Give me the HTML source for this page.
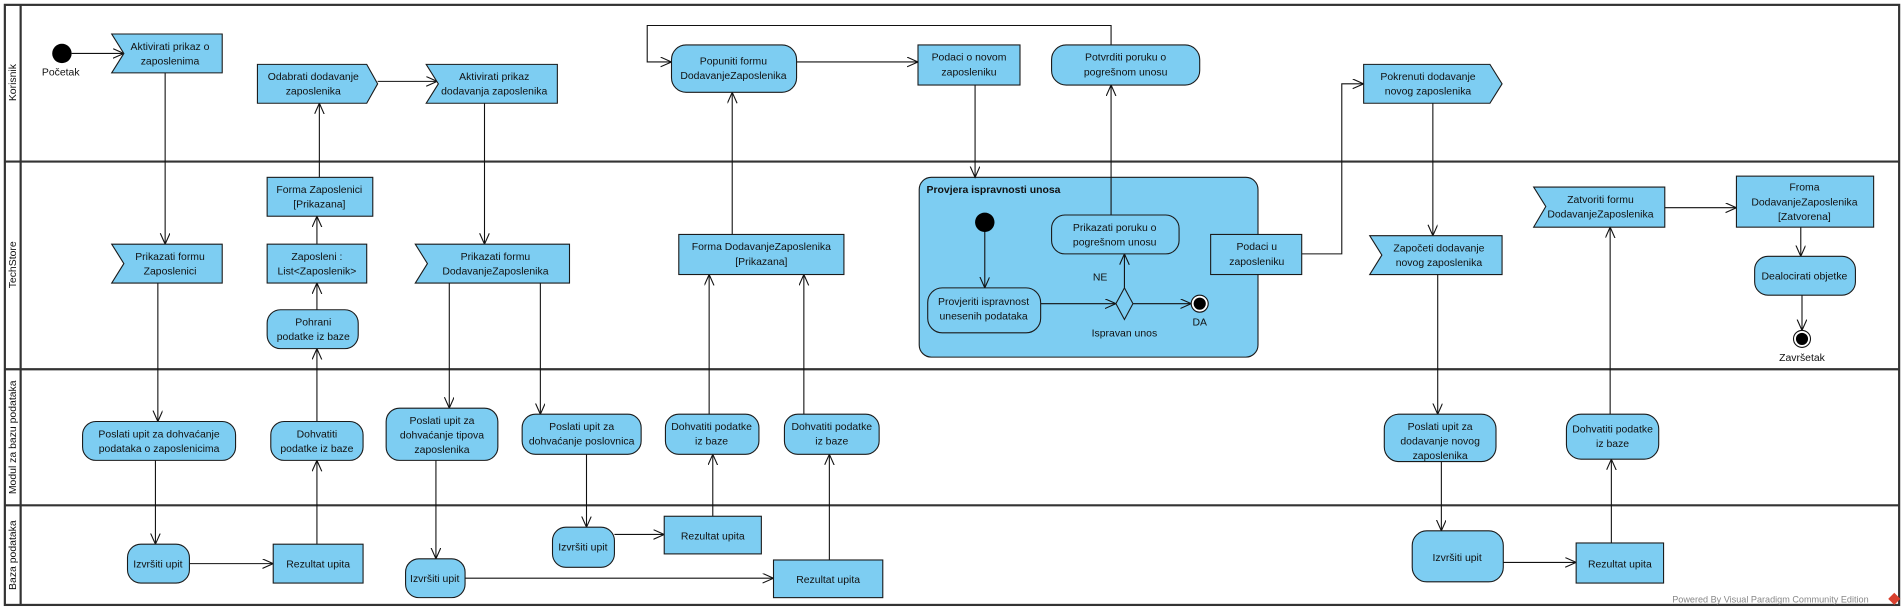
<!DOCTYPE html>
<html><head><meta charset="utf-8"><style>
html,body{margin:0;padding:0;background:#fff;}
svg{display:block;}
text{font-family:"Liberation Sans",sans-serif;font-size:8.6px;fill:#111;}
.n{fill:#7dcdf2;stroke:#1a1a1a;stroke-width:0.9;}
.l{fill:none;stroke:#111;stroke-width:0.9;}
.lane{fill:none;stroke:#333;stroke-width:1.8;}
</style></head><body>
<svg width="1904" height="611" viewBox="0 0 1568 503" preserveAspectRatio="none" xmlns="http://www.w3.org/2000/svg">
<defs><marker id="a" markerUnits="userSpaceOnUse" markerWidth="12" markerHeight="10" refX="9" refY="4" orient="auto"><path d="M0,0 L9,4 L0,8" fill="none" stroke="#111" stroke-width="0.9"/></marker></defs>
<rect x="0" y="0" width="1568" height="503" fill="#fff"/>
<!-- lanes -->
<rect class="lane" x="4" y="4" width="1560" height="494"/>
<line class="lane" x1="17" y1="4" x2="17" y2="498"/>
<line class="lane" x1="4" y1="133" x2="1564" y2="133"/>
<line class="lane" x1="4" y1="304" x2="1564" y2="304"/>
<line class="lane" x1="4" y1="416" x2="1564" y2="416"/>
<text transform="translate(13,68) rotate(-90)" text-anchor="middle">Korisnik</text>
<text transform="translate(13,218) rotate(-90)" text-anchor="middle">TechStore</text>
<text transform="translate(13,360) rotate(-90)" text-anchor="middle">Modul za bazu podataka</text>
<text transform="translate(13,457) rotate(-90)" text-anchor="middle">Baza podataka</text>

<!-- container -->
<rect class="n" x="757" y="146" width="279" height="148" rx="10"/>
<text x="763" y="159" style="font-weight:bold">Provjera ispravnosti unosa</text>

<!-- connectors -->
<g class="l">
<line x1="59" y1="44" x2="102" y2="44" marker-end="url(#a)"/>
<line x1="136" y1="60" x2="136" y2="201" marker-end="url(#a)"/>
<line x1="130" y1="233" x2="130" y2="347" marker-end="url(#a)"/>
<line x1="128" y1="379" x2="128" y2="448" marker-end="url(#a)"/>
<line x1="156" y1="464" x2="225" y2="464" marker-end="url(#a)"/>
<line x1="261" y1="448" x2="261" y2="379" marker-end="url(#a)"/>
<line x1="261" y1="347" x2="261" y2="287" marker-end="url(#a)"/>
<line x1="261" y1="255" x2="261" y2="233" marker-end="url(#a)"/>
<line x1="261" y1="201" x2="261" y2="178" marker-end="url(#a)"/>
<line x1="263" y1="146" x2="263" y2="85" marker-end="url(#a)"/>
<line x1="311" y1="67" x2="360" y2="67" marker-end="url(#a)"/>
<line x1="399" y1="85" x2="399" y2="201" marker-end="url(#a)"/>
<line x1="370" y1="233" x2="370" y2="336" marker-end="url(#a)"/>
<line x1="445" y1="233" x2="445" y2="341" marker-end="url(#a)"/>
<line x1="359" y1="379" x2="359" y2="460" marker-end="url(#a)"/>
<line x1="383" y1="476" x2="637" y2="476" marker-end="url(#a)"/>
<line x1="483" y1="374" x2="483" y2="434" marker-end="url(#a)"/>
<line x1="506" y1="440" x2="547" y2="440" marker-end="url(#a)"/>
<line x1="587" y1="425" x2="587" y2="374" marker-end="url(#a)"/>
<line x1="584" y1="341" x2="584" y2="226" marker-end="url(#a)"/>
<line x1="683" y1="461" x2="683" y2="374" marker-end="url(#a)"/>
<line x1="662" y1="341" x2="662" y2="226" marker-end="url(#a)"/>
<line x1="603" y1="193" x2="603" y2="76" marker-end="url(#a)"/>
<line x1="656" y1="51" x2="756" y2="51" marker-end="url(#a)"/>
<polyline points="915,37 915,21 533,21 533,51 553,51" marker-end="url(#a)"/>
<line x1="803" y1="70" x2="803" y2="146" marker-end="url(#a)"/>
<line x1="811" y1="190" x2="811" y2="237" marker-end="url(#a)"/>
<line x1="857" y1="250" x2="919" y2="250" marker-end="url(#a)"/>
<line x1="933" y1="250" x2="981" y2="250" marker-end="url(#a)"/>
<line x1="926" y1="237" x2="926" y2="209" marker-end="url(#a)"/>
<line x1="915" y1="177" x2="915" y2="70" marker-end="url(#a)"/>
<polyline points="1072,209 1105,209 1105,69 1123,69" marker-end="url(#a)"/>
<line x1="1180" y1="85" x2="1180" y2="194" marker-end="url(#a)"/>
<line x1="1184" y1="226" x2="1184" y2="341" marker-end="url(#a)"/>
<line x1="1187" y1="380" x2="1187" y2="437" marker-end="url(#a)"/>
<line x1="1238" y1="463" x2="1298" y2="463" marker-end="url(#a)"/>
<line x1="1327" y1="447" x2="1327" y2="378" marker-end="url(#a)"/>
<line x1="1326" y1="341" x2="1326" y2="187" marker-end="url(#a)"/>
<line x1="1371" y1="171" x2="1430" y2="171" marker-end="url(#a)"/>
<line x1="1483" y1="187" x2="1483" y2="211" marker-end="url(#a)"/>
<line x1="1484" y1="243" x2="1484" y2="272" marker-end="url(#a)"/>
</g>

<!-- nodes -->
<circle cx="51" cy="44" r="8" fill="#000"/>
<text x="50" y="62" text-anchor="middle">Početak</text>

<polygon class="n" points="92,28 183,28 183,60 92,60 102,44"/>
<text x="140" y="41" text-anchor="middle">Aktivirati prikaz o</text><text x="140" y="53" text-anchor="middle">zaposlenima</text>

<polygon class="n" points="212,53 302,53 311,69 302,85 212,85"/>
<text x="258" y="66" text-anchor="middle">Odabrati dodavanje</text><text x="258" y="78" text-anchor="middle">zaposlenika</text>

<polygon class="n" points="351,53 459,53 459,85 351,85 361,69"/>
<text x="407" y="66" text-anchor="middle">Aktivirati prikaz</text><text x="407" y="78" text-anchor="middle">dodavanja zaposlenika</text>

<rect class="n" x="220" y="146" width="87" height="32"/>
<text x="263" y="159" text-anchor="middle">Forma Zaposlenici</text><text x="263" y="171" text-anchor="middle">[Prikazana]</text>

<polygon class="n" points="92,201 183,201 183,233 92,233 102,217"/>
<text x="140" y="214" text-anchor="middle">Prikazati formu</text><text x="140" y="226" text-anchor="middle">Zaposlenici</text>

<rect class="n" x="220" y="201" width="82" height="32"/>
<text x="261" y="214" text-anchor="middle">Zaposleni :</text><text x="261" y="226" text-anchor="middle">List&lt;Zaposlenik&gt;</text>

<polygon class="n" points="342,201 469,201 469,233 342,233 352,217"/>
<text x="408" y="214" text-anchor="middle">Prikazati formu</text><text x="408" y="226" text-anchor="middle">DodavanjeZaposlenika</text>

<rect class="n" x="220" y="255" width="75" height="32" rx="11"/>
<text x="258" y="268" text-anchor="middle">Pohrani</text><text x="258" y="280" text-anchor="middle">podatke iz baze</text>

<rect class="n" x="68" y="347" width="126" height="32" rx="11"/>
<text x="131" y="360" text-anchor="middle">Poslati upit za dohvaćanje</text><text x="131" y="372" text-anchor="middle">podataka o zaposlenicima</text>

<rect class="n" x="223" y="347" width="76" height="32" rx="11"/>
<text x="261" y="360" text-anchor="middle">Dohvatiti</text><text x="261" y="372" text-anchor="middle">podatke iz baze</text>

<rect class="n" x="318" y="336" width="92" height="43" rx="11"/>
<text x="364" y="349" text-anchor="middle">Poslati upit za</text><text x="364" y="361" text-anchor="middle">dohvaćanje tipova</text><text x="364" y="373" text-anchor="middle">zaposlenika</text>

<rect class="n" x="430" y="341" width="98" height="33" rx="11"/>
<text x="479" y="354" text-anchor="middle">Poslati upit za</text><text x="479" y="366" text-anchor="middle">dohvaćanje poslovnica</text>

<rect class="n" x="105" y="448" width="51" height="32" rx="11"/>
<text x="130" y="467" text-anchor="middle">Izvršiti upit</text>
<rect class="n" x="225" y="448" width="74" height="32"/>
<text x="262" y="467" text-anchor="middle">Rezultat upita</text>

<rect class="n" x="334" y="460" width="49" height="32" rx="11"/>
<text x="358" y="479" text-anchor="middle">Izvršiti upit</text>

<rect class="n" x="455" y="434" width="51" height="33" rx="11"/>
<text x="480" y="453" text-anchor="middle">Izvršiti upit</text>

<rect class="n" x="547" y="425" width="80" height="31"/>
<text x="587" y="444" text-anchor="middle">Rezultat upita</text>
<rect class="n" x="637" y="461" width="90" height="31"/>
<text x="682" y="480" text-anchor="middle">Rezultat upita</text>

<rect class="n" x="548" y="341" width="77" height="33" rx="11"/>
<text x="586" y="354" text-anchor="middle">Dohvatiti podatke</text><text x="586" y="366" text-anchor="middle">iz baze</text>
<rect class="n" x="646" y="341" width="78" height="33" rx="11"/>
<text x="685" y="354" text-anchor="middle">Dohvatiti podatke</text><text x="685" y="366" text-anchor="middle">iz baze</text>

<rect class="n" x="559" y="193" width="136" height="33"/>
<text x="627" y="206" text-anchor="middle">Forma DodavanjeZaposlenika</text><text x="627" y="218" text-anchor="middle">[Prikazana]</text>

<rect class="n" x="553" y="37" width="103" height="39" rx="12"/>
<text x="604" y="53" text-anchor="middle">Popuniti formu</text><text x="604" y="65" text-anchor="middle">DodavanjeZaposlenika</text>

<rect class="n" x="756" y="37" width="84" height="33"/>
<text x="798" y="50" text-anchor="middle">Podaci o novom</text><text x="798" y="62" text-anchor="middle">zaposleniku</text>

<rect class="n" x="866" y="37" width="122" height="33" rx="12"/>
<text x="927" y="50" text-anchor="middle">Potvrditi poruku o</text><text x="927" y="62" text-anchor="middle">pogrešnom unosu</text>

<circle cx="811" cy="183" r="8" fill="#000"/>
<rect class="n" x="764" y="237" width="93" height="37" rx="12"/>
<text x="810" y="251" text-anchor="middle">Provjeriti ispravnost</text><text x="810" y="263" text-anchor="middle">unesenih podataka</text>
<rect class="n" x="866" y="177" width="105" height="32" rx="11"/>
<text x="918" y="190" text-anchor="middle">Prikazati poruku o</text><text x="918" y="202" text-anchor="middle">pogrešnom unosu</text>
<polygon class="n" points="926,237 933,250 926,263 919,250"/>
<text x="906" y="231" text-anchor="middle">NE</text>
<text x="926" y="277" text-anchor="middle">Ispravan unos</text>
<circle cx="988" cy="250" r="7" fill="#fff" stroke="#111" stroke-width="0.9"/>
<circle cx="988" cy="250" r="5" fill="#000"/>
<text x="988" y="268" text-anchor="middle">DA</text>

<rect class="n" x="997" y="193" width="75" height="33"/>
<text x="1035" y="206" text-anchor="middle">Podaci u</text><text x="1035" y="218" text-anchor="middle">zaposleniku</text>

<polygon class="n" points="1123,53 1227,53 1237,69 1227,85 1123,85"/>
<text x="1176" y="66" text-anchor="middle">Pokrenuti dodavanje</text><text x="1176" y="78" text-anchor="middle">novog zaposlenika</text>

<polygon class="n" points="1128,194 1237,194 1237,226 1128,226 1138,210"/>
<text x="1185" y="207" text-anchor="middle">Započeti dodavanje</text><text x="1185" y="219" text-anchor="middle">novog zaposlenika</text>

<polygon class="n" points="1263,154 1371,154 1371,187 1263,187 1273,170"/>
<text x="1318" y="167" text-anchor="middle">Zatvoriti formu</text><text x="1318" y="179" text-anchor="middle">DodavanjeZaposlenika</text>

<rect class="n" x="1430" y="145" width="113" height="42"/>
<text x="1486" y="157" text-anchor="middle">Froma</text><text x="1486" y="169" text-anchor="middle">DodavanjeZaposlenika</text><text x="1486" y="181" text-anchor="middle">[Zatvorena]</text>

<rect class="n" x="1445" y="211" width="83" height="32" rx="11"/>
<text x="1486" y="230" text-anchor="middle">Dealocirati objetke</text>

<circle cx="1484" cy="279" r="7" fill="#fff" stroke="#111" stroke-width="0.9"/>
<circle cx="1484" cy="279" r="5" fill="#000"/>
<text x="1484" y="297" text-anchor="middle">Završetak</text>

<rect class="n" x="1140" y="341" width="92" height="39" rx="12"/>
<text x="1186" y="354" text-anchor="middle">Poslati upit za</text><text x="1186" y="366" text-anchor="middle">dodavanje novog</text><text x="1186" y="378" text-anchor="middle">zaposlenika</text>

<rect class="n" x="1290" y="341" width="76" height="37" rx="12"/>
<text x="1328" y="356" text-anchor="middle">Dohvatiti podatke</text><text x="1328" y="368" text-anchor="middle">iz baze</text>

<rect class="n" x="1163" y="437" width="75" height="42" rx="12"/>
<text x="1200" y="462" text-anchor="middle">Izvršiti upit</text>
<rect class="n" x="1298" y="447" width="72" height="33"/>
<text x="1334" y="467" text-anchor="middle">Rezultat upita</text>

<text x="1458" y="496" text-anchor="middle" style="font-size:7.5px;fill:#888">Powered By Visual Paradigm Community Edition</text>
<polygon points="1560,488 1565,493 1560,498 1555,493" fill="#d9412f"/>
</svg>
</body></html>
